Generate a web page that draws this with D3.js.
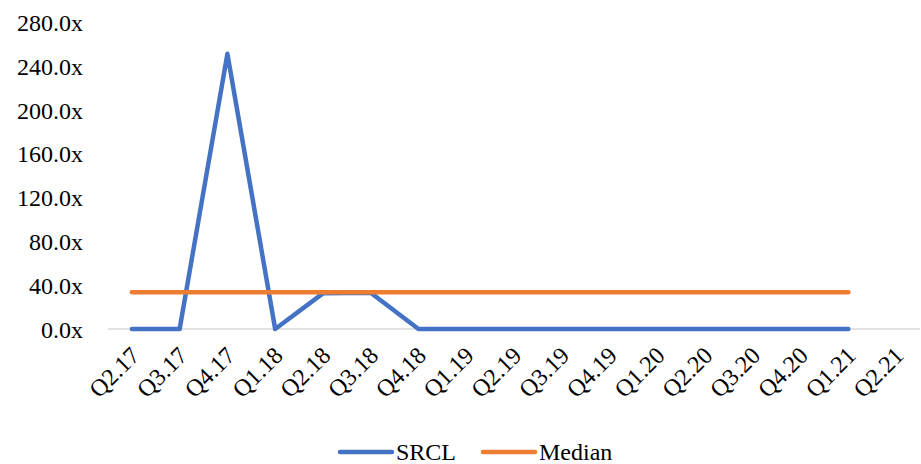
<!DOCTYPE html>
<html>
<head>
<meta charset="utf-8">
<script src="https://cdn.jsdelivr.net/npm/d3@7"></script>
<style>
  html, body { margin: 0; padding: 0; background: #fff; }
  svg text { font-family: "Palatino Linotype", "Book Antiqua", Palatino, "Liberation Serif", serif; fill: #000; }
</style>
</head>
<body>
<svg id="chart" width="921" height="464"></svg>
<script>
// Quarterly periods on the x axis
const categories = ["Q2.17","Q3.17","Q4.17","Q1.18","Q2.18","Q3.18","Q4.18","Q1.19","Q2.19","Q3.19","Q4.19","Q1.20","Q2.20","Q3.20","Q4.20","Q1.21","Q2.21"];
// SRCL multiple per quarter (null = no value)
const srclValues = [0, 0, 251, 0, 32.5, 33, 0, 0, 0, 0, 0, 0, 0, 0, 0, 0, null];
// Median multiple
const medianValues = [33.5,33.5,33.5,33.5,33.5,33.5,33.5,33.5,33.5,33.5,33.5,33.5,33.5,33.5,33.5,33.5, null];
// Y axis ticks
const yTicks = [0, 40, 80, 120, 160, 200, 240, 280];

const series = [
  { name: "SRCL", values: srclValues, color: "#4472C4" },
  { name: "Median", values: medianValues, color: "#ED7D31" }
];

const FONT_SIZE = 24;
const svg = d3.select("#chart");
const plot = { left: 108, right: 920, top: 22, bottom: 329 };

const x = d3.scaleBand().domain(categories).range([plot.left, plot.right]).padding(0);
const y = d3.scaleLinear().domain([0, 280]).range([plot.bottom, plot.top]);

// Baseline
svg.append("line")
  .attr("x1", plot.left).attr("x2", plot.right)
  .attr("y1", y(0)).attr("y2", y(0))
  .attr("stroke", "#D9D9D9").attr("stroke-width", 1.3);

// Y axis labels
const yAxis = d3.axisLeft(y).tickValues(yTicks).tickSize(0).tickPadding(0)
  .tickFormat(d => d3.format(".1f")(d) + "x");
const yg = svg.append("g").attr("transform", "translate(83,0)").call(yAxis);
yg.select(".domain").remove();
yg.selectAll("text").attr("font-size", FONT_SIZE).attr("font-family", null).attr("dy", "0.35em");

// X axis labels, rotated
const xAxis = d3.axisBottom(x).tickSize(0).tickPadding(0);
const xg = svg.append("g").attr("transform", `translate(0,${y(0)})`).call(xAxis);
xg.select(".domain").remove();
xg.selectAll("text")
  .attr("font-size", FONT_SIZE).attr("font-family", null)
  .attr("text-anchor", "end")
  .attr("dy", null).attr("y", 0)
  .attr("transform", "translate(9,28) rotate(-45)");

// Lines
const line = d3.line()
  .defined(d => d != null)
  .x((d, i) => x(categories[i]) + x.bandwidth() / 2)
  .y(d => y(d));

series.forEach(s => {
  svg.append("path")
    .datum(s.values)
    .attr("fill", "none")
    .attr("stroke", s.color)
    .attr("stroke-width", 4.5)
    .attr("stroke-linejoin", "round")
    .attr("stroke-linecap", "round")
    .attr("d", line);
});

// Legend
const legend = svg.append("g").attr("transform", "translate(0,452)");
const legendItems = [
  { s: series[0], x: 340 },
  { s: series[1], x: 483 }
];
legendItems.forEach(({ s, x: lx }) => {
  legend.append("line")
    .attr("x1", lx).attr("x2", lx + 52)
    .attr("y1", 0).attr("y2", 0)
    .attr("stroke", s.color).attr("stroke-width", 4.5)
    .attr("stroke-linecap", "round");
  legend.append("text")
    .attr("x", lx + 56).attr("y", 0).attr("dy", "0.35em")
    .attr("font-size", FONT_SIZE)
    .text(s.name);
});
</script>
</body>
</html>
